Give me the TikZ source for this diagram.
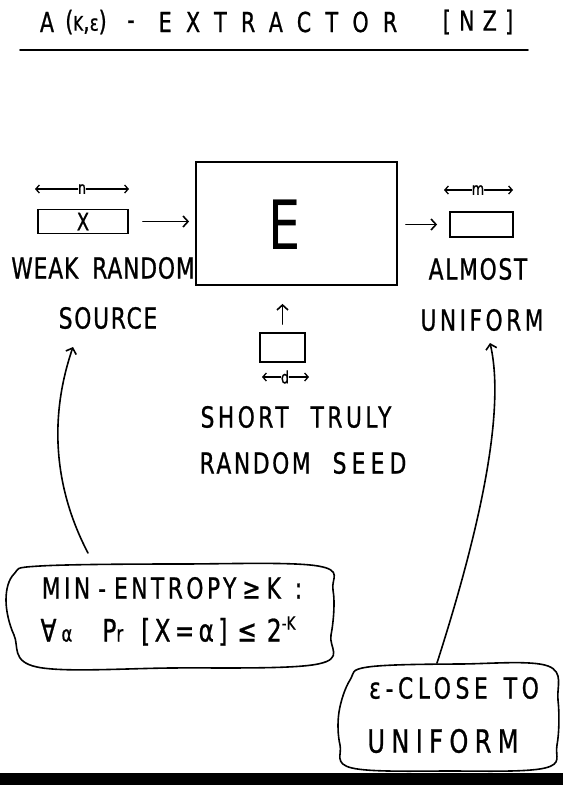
\documentclass[tikz,border=0pt]{standalone}
\usepackage{fontspec}
\usetikzlibrary{arrows.meta}
\newfontfamily\hand[FakeStretch=0.75,FakeBold=0.8]{DejaVu Sans}
\newfontfamily\handthin[FakeStretch=0.75]{DejaVu Sans}
\newcommand\ls[1]{\addfontfeature{LetterSpace=#1}}
\tikzset{
 x=1pt,y=-1pt,
 lbl/.style={inner sep=0pt, anchor=center, font=\hand\fontsize{29}{29}\selectfont},
 ttl/.style={inner sep=0pt, anchor=center, font=\hand\fontsize{27.5}{27.5}\selectfont},
 small/.style={inner sep=0pt, anchor=center, font=\hand\fontsize{17}{17}\selectfont},
 stroke/.style={line width=1.6pt, line cap=round, line join=round},
 boxed/.style={draw, line width=1.8pt, inner sep=0pt},
 arr/.style={stroke, -{Straight Barb[length=5pt,width=11pt,line width=1.6pt]}},
 dimarr/.style={line width=1.3pt, line cap=round, -{Straight Barb[length=3.5pt,width=8pt,line width=1.3pt]}},
}
\begin{document}
\begin{tikzpicture}
\useasboundingbox (0,0) rectangle (563,785);
% title
\node[ttl] (tA) at (47,22) {A};
\node[ttl] (tK) at (86,22) {\ls{10}({\fontsize{20}{20}\selectfont K},{\fontsize{22}{22}\selectfont ε})};
\node[ttl] (tD) at (131,25) {-};
\node[ttl] (tE) at (278,22) {\ls{52}EXTRACTOR};
\node[ttl] (tN) at (478,22) {\ls{30}[NZ]};
\coordinate (ul) at (20,50);
\coordinate (ur) at (528,50);
\draw[stroke] (ul) -- (ur);

% main box
\node[boxed, minimum width=201pt, minimum height=123pt] (E) at (296.5,223.5) {};
\node[inner sep=0pt, font=\handthin\fontsize{68}{68}\selectfont] (Elet) at (285,225) {E};

% source
\node[boxed, minimum width=90pt, minimum height=24pt, font=\hand\fontsize{24}{24}\selectfont] (xbox) at (83,221.5) {X};
\node[small] (nlab) at (82,189) {n};
\coordinate (nl) at (35,189);
\coordinate (nr) at (129,189);
\draw[dimarr] (nlab.west) -- (nl);
\draw[dimarr] (nlab.east) -- (nr);
\draw[arr] ([xshift=14pt]xbox.east) -- ([xshift=-6pt]E.west |- xbox.east);
\node[lbl] (weak) at (103,268) {\ls{3}WEAK\hspace{14pt}RANDOM};
\node[lbl] (source) at (108,318) {\ls{6}SOURCE};

% output
\node[boxed, minimum width=63pt, minimum height=25pt] (out) at (481.5,224.5) {};
\node[small] (mlab) at (478,190) {m};
\coordinate (ml) at (444,190);
\coordinate (mr) at (513,190);
\draw[dimarr] (mlab.west) -- (ml);
\draw[dimarr] (mlab.east) -- (mr);
\draw[arr] ([xshift=8pt]E.east |- out.west) -- ([xshift=-12pt]out.west);
\node[lbl] (almost) at (478,269) {\ls{6}ALMOST};
\node[lbl] (uniform) at (482,320) {\ls{12}UNIFORM};

% seed
\node[boxed, minimum width=45pt, minimum height=29pt] (seed) at (282.5,347.5) {};
\draw[arr] ([yshift=8pt]seed.north) -- ([yshift=-18pt]seed.north |- E.south);
\node[small] (dlab) at (285,377) {d};
\coordinate (dl) at (262,377);
\coordinate (dr) at (309,377);
\draw[dimarr] (dlab.west) -- (dl);
\draw[dimarr] (dlab.east) -- (dr);
\node[lbl] (short) at (296,417) {\ls{12}SHORT\hspace{22pt}TRULY};
\node[lbl] (rseed) at (303,463) {\ls{9}RANDOM\hspace{22pt}{\ls{18}SEED}};

% blob 1
\draw[stroke] plot[smooth cycle, tension=0.6] coordinates {(40,566) (180,564) (318,566) (333,590) (331,635) (318,664) (170,668) (37,667) (14,635) (6,600) (14,574)};
\node[lbl] (minent) at (172,588) {\ls{12}MIN\hspace{8pt}-\hspace{8pt}ENTROPY\hspace{6pt}≥\hspace{6pt}K\hspace{14pt}:};
\node[lbl, font=\hand\fontsize{31}{31}\selectfont] (prob) at (168,631) {∀\hspace{5pt}{\fontsize{22}{22}\selectfont α}\hspace{30pt}P{\fontsize{22}{22}\selectfont r}\hspace{18pt}{\ls{14}[X=α]}\hspace{10pt}≤\hspace{10pt}2\raisebox{12pt}{\fontsize{18}{18}\selectfont -K}};
\coordinate (c1s) at (88,553);
\coordinate (c1t) at (73,347);
\draw[arr] (c1s) .. controls (55,490) and (48,420) .. (c1t);

% blob 2
\draw[stroke] plot[smooth cycle, tension=0.6] coordinates {(368,667) (460,664) (548,666) (558,700) (557,745) (545,768) (450,771) (352,768) (340,745) (339,712) (350,680)};
\node[lbl] (eps) at (454,688) {\ls{16}ε-CLOSE\hspace{16pt}TO};
\node[lbl, font=\hand\fontsize{32}{32}\selectfont] (unif2) at (443,741) {\ls{20}UNIFORM};
\coordinate (c2s) at (437,663);
\coordinate (c2t) at (490,343);
\draw[arr] (c2s) .. controls (470,560) and (508,420) .. (c2t);

% bottom bar
\fill (0,773) rectangle (563,785);
\end{tikzpicture}
\end{document}
